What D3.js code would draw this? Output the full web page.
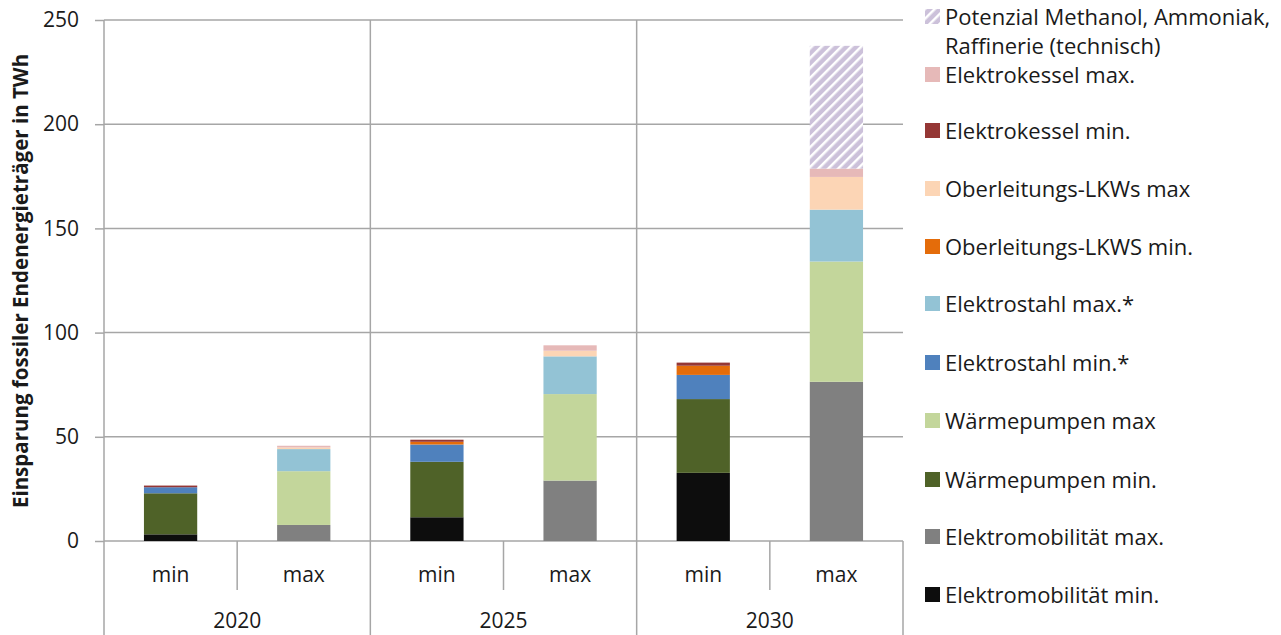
<!DOCTYPE html>
<html>
<head>
<meta charset="utf-8">
<script src="https://cdn.jsdelivr.net/npm/d3@7"></script>
<style>
  body { margin: 0; background: #fff; }
  text { font-family: "Open Sans", sans-serif; fill: #1a1a1a; }
  .axisText { font-weight: bold; }
</style>
</head>
<body>
<div class="chart"></div>
<script>
// Data
var years = ["2020", "2025", "2030"];
var categories = ["2020 min", "2020 max", "2025 min", "2025 max", "2030 min", "2030 max"];
var catLabels = ["min", "max", "min", "max", "min", "max"];
var yTicks = [0, 50, 100, 150, 200, 250];

var emMin = [3.2, 0, 11.4, 0, 32.7, 0];
var emMax = [0, 7.7, 0, 29.0, 0, 76.4];
var wpMin = [19.7, 0, 26.6, 0, 35.4, 0];
var wpMax = [0, 25.8, 0, 41.5, 0, 57.7];
var esMin = [2.9, 0, 8.3, 0, 11.6, 0];
var esMax = [0, 10.6, 0, 18.1, 0, 24.9];
var olMin = [0, 0, 1.3, 0, 4.4, 0];
var olMax = [0, 0.8, 0, 2.7, 0, 15.7];
var ekMin = [0.8, 0, 1.0, 0, 1.5, 0];
var ekMax = [0, 0.8, 0, 2.6, 0, 4.0];
var potenzial = [0, 0, 0, 0, 0, 58.9];

var seriesNames = ["Elektromobilität min.", "Elektromobilität max.", "Wärmepumpen min.", "Wärmepumpen max",
  "Elektrostahl min.*", "Elektrostahl max.*", "Oberleitungs-LKWS min.", "Oberleitungs-LKWs max",
  "Elektrokessel min.", "Elektrokessel max.", "Potenzial Methanol, Ammoniak, Raffinerie (technisch)"];
var seriesValues = [emMin, emMax, wpMin, wpMax, esMin, esMax, olMin, olMax, ekMin, ekMax, potenzial];
var colors = ["#0d0d0d", "#808080", "#4f6228", "#c3d69b", "#4f81bd", "#93c3d5",
  "#e46c0a", "#fcd5b5", "#953735", "#e6b9b8", "url(#hatch)"];

var svgWidth = 1281;
var svgHeight = 635;
var margin = { top: 20, right: 378, bottom: 94, left: 104 };
var width = svgWidth - margin.left - margin.right;
var height = svgHeight - margin.top - margin.bottom;

var svg = d3.select(".chart")
  .append("svg")
  .attr("width", svgWidth)
  .attr("height", svgHeight);

// hatch pattern for the Potenzial series
var pattern = svg.append("defs").append("pattern")
  .attr("id", "hatch")
  .attr("patternUnits", "userSpaceOnUse")
  .attr("width", 7)
  .attr("height", 7)
  .attr("patternTransform", "rotate(45)");
pattern.append("rect").attr("width", 7).attr("height", 7).attr("fill", "#ccc1da");
pattern.append("rect").attr("width", 2.5).attr("height", 7).attr("fill", "#ffffff");

var chartGroup = svg.append("g")
  .attr("transform", `translate(${margin.left}, ${margin.top})`);

// table for the stack
var table = categories.map(function(c, i) {
  var row = { cat: c };
  seriesNames.forEach(function(name, k) { row[name] = seriesValues[k][i]; });
  return row;
});
var stacked = d3.stack().keys(seriesNames)(table);

var xScale = d3.scaleBand()
  .domain(categories)
  .range([0, width])
  .paddingInner(0.6)
  .paddingOuter(0.3);

var yScale = d3.scaleLinear()
  .domain([0, 250])
  .range([height, 0]);

var gridColor = "#a6a6a6";

// horizontal gridlines
chartGroup.selectAll(".grid")
  .data(yTicks)
  .enter()
  .append("line")
  .attr("x1", 0)
  .attr("x2", width)
  .attr("y1", d => yScale(d))
  .attr("y2", d => yScale(d))
  .attr("stroke", gridColor)
  .attr("stroke-width", 1.5);

// group separators (full height) and min/max separators
var step = xScale.step();
var groupEdges = [2, 4];
chartGroup.selectAll(".sep")
  .data(groupEdges)
  .enter()
  .append("line")
  .attr("x1", d => xScale(categories[d]) - xScale.paddingOuter() * step)
  .attr("x2", d => xScale(categories[d]) - xScale.paddingOuter() * step)
  .attr("y1", 0)
  .attr("y2", svgHeight - margin.top)
  .attr("stroke", gridColor)
  .attr("stroke-width", 1.5);

chartGroup.selectAll(".subsep")
  .data([1, 3, 5])
  .enter()
  .append("line")
  .attr("x1", d => xScale(categories[d]) - xScale.paddingOuter() * step)
  .attr("x2", d => xScale(categories[d]) - xScale.paddingOuter() * step)
  .attr("y1", height)
  .attr("y2", height + 49)
  .attr("stroke", gridColor)
  .attr("stroke-width", 1.5);

// right end of category axis
chartGroup.append("line")
  .attr("x1", width).attr("x2", width)
  .attr("y1", height).attr("y2", svgHeight - margin.top)
  .attr("stroke", gridColor)
  .attr("stroke-width", 1.5);

// bars
chartGroup.selectAll(".layer")
  .data(stacked)
  .enter()
  .append("g")
  .attr("fill", (d, i) => colors[i])
  .selectAll("rect")
  .data(d => d.filter(p => p[1] - p[0] > 0))
  .enter()
  .append("rect")
  .attr("x", d => xScale(d.data.cat))
  .attr("y", d => yScale(d[1]))
  .attr("height", d => yScale(d[0]) - yScale(d[1]))
  .attr("width", xScale.bandwidth());

// y axis
var leftAxis = d3.axisLeft(yScale)
  .tickValues(yTicks)
  .tickSize(9)
  .tickSizeOuter(0)
  .tickPadding(16);
var yAxisG = chartGroup.append("g").call(leftAxis);
yAxisG.select(".domain").remove();
yAxisG.selectAll("line").attr("stroke", gridColor).attr("stroke-width", 1.5);
yAxisG.selectAll("text")
  .style("font-family", "Open Sans, sans-serif")
  .style("font-size", "21px")
  .attr("fill", "#1a1a1a");

chartGroup.append("line")
  .attr("x1", 0).attr("x2", 0)
  .attr("y1", 0).attr("y2", svgHeight - margin.top)
  .attr("stroke", gridColor)
  .attr("stroke-width", 1.5);

// category labels
chartGroup.selectAll(".catLabel")
  .data(categories)
  .enter()
  .append("text")
  .attr("x", d => xScale(d) + xScale.bandwidth() / 2)
  .attr("y", height + 41)
  .attr("text-anchor", "middle")
  .style("font-size", "21px")
  .text((d, i) => catLabels[i]);

chartGroup.selectAll(".yearLabel")
  .data(years)
  .enter()
  .append("text")
  .attr("x", (d, i) => (xScale(categories[i * 2]) + xScale(categories[i * 2 + 1]) + xScale.bandwidth()) / 2)
  .attr("y", height + 87)
  .attr("text-anchor", "middle")
  .style("font-size", "21px")
  .text(d => d);

// axis title
svg.append("text")
  .attr("transform", `translate(28, 281) rotate(-90)`)
  .attr("text-anchor", "middle")
  .attr("class", "axisText")
  .style("font-size", "20.5px")
  .text("Einsparung fossiler Endenergieträger in TWh");

// legend (top to bottom = reverse stack order)
var legendY = [17, 75, 131, 189, 247, 304, 363, 421, 480, 537, 595];
var legend = svg.append("g");
var legendItems = seriesNames.slice().reverse();
var legendColors = colors.slice().reverse();
legendItems.forEach(function(name, i) {
  var g = legend.append("g").attr("transform", `translate(925, ${legendY[i]})`);
  g.append("rect")
    .attr("x", 0).attr("y", -8)
    .attr("width", 15).attr("height", 15)
    .attr("fill", legendColors[i]);
  var t = g.append("text")
    .attr("x", 20)
    .attr("y", 7.5)
    .style("font-size", "22px");
  if (i === 0) {
    t.append("tspan").attr("x", 20).text("Potenzial Methanol, Ammoniak,");
    t.append("tspan").attr("x", 20).attr("dy", 29).text("Raffinerie (technisch)");
  } else {
    t.text(name);
  }
});
</script>
</body>
</html>
